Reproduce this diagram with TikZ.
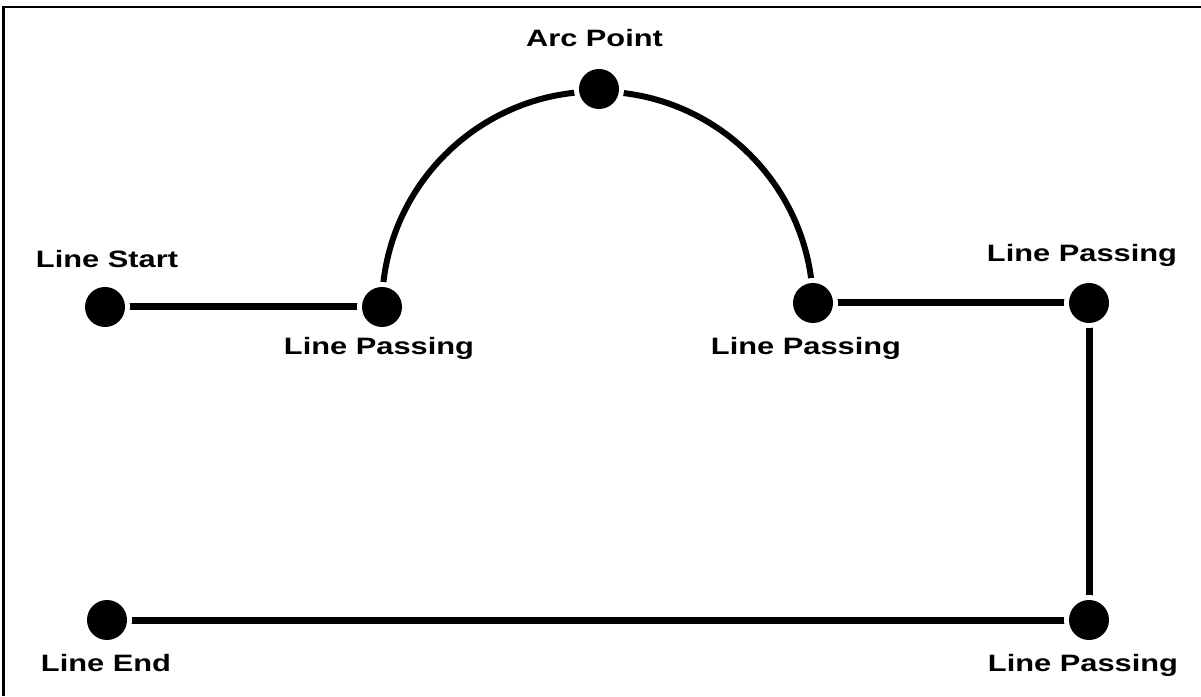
\documentclass[tikz,border=0pt]{standalone}
\usepackage{fontspec}
\newfontfamily\labfont[FakeStretch=1.3]{Liberation Sans Bold}
\usetikzlibrary{backgrounds}
\tikzset{
  dot/.style={circle, fill=black, minimum size=40pt, inner sep=0pt, outer sep=0pt,
    preaction={draw=white, line width=10pt}},
  conn/.style={line width=7pt},
  arcline/.style={line width=6pt},
  lab/.style={anchor=base, inner sep=0pt, font=\labfont\fontsize{23.7}{28}\selectfont},
  frame/.style={line width=2.5pt}
}
\begin{document}
\begin{tikzpicture}[x=1pt, y=1pt]
\useasboundingbox (0,0) rectangle (1201,696);
\coordinate (fr) at (1201,689);
\coordinate (fc) at (3.5,689);
\coordinate (fb) at (3.5,0);
\draw[frame] (fr) -- (fc) -- (fb);
% points
\node[dot] (s) at (105,389) {};
\node[dot] (p1) at (382,389) {};
\node[dot] (a) at (599,607) {};
\node[dot] (p2) at (813,393) {};
\node[dot] (p3) at (1089,393) {};
\node[dot] (p4) at (1089,76) {};
\node[dot] (e) at (107,76) {};
% connectors
\begin{pgfonlayer}{background}
\fill[white] (0,0) rectangle (1201,696);
\draw[conn] (s) -- (p1);
\draw[arcline] (p1.center) arc[start angle=180, end angle=0, radius=215.5];
\draw[conn] (p2) -- (p3);
\draw[conn] (p3) -- (p4);
\draw[conn] (p4) -- (e);
\end{pgfonlayer}
% labels
\node[lab] (ls) at (107,428) {Line Start};
\node[lab] (la) at (594.5,649) {Arc Point};
\node[lab] (l1) at (379,341) {Line Passing};
\node[lab] (l2) at (806,341) {Line Passing};
\node[lab] (l3) at (1082,434) {Line Passing};
\node[lab] (l4) at (1083,25) {Line Passing};
\node[lab] (le) at (106,25) {Line End};
\end{tikzpicture}
\end{document}
